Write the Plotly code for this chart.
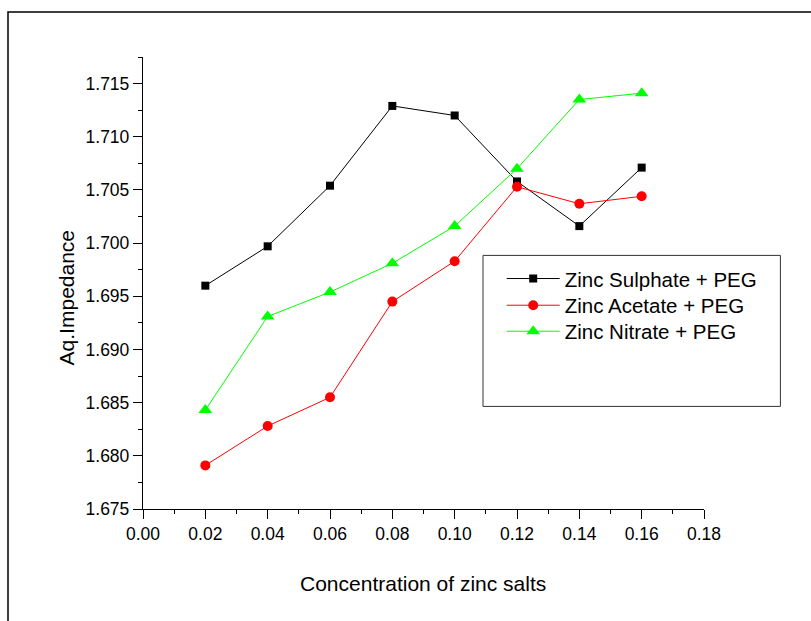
import plotly.graph_objects as go

x_conc = [0.02, 0.04, 0.06, 0.08, 0.10, 0.12, 0.14, 0.16]
zinc_sulphate = [1.6960, 1.6997, 1.7054, 1.7129, 1.7120, 1.7058, 1.7016, 1.7071]
zinc_acetate = [1.6791, 1.6828, 1.6855, 1.6945, 1.6983, 1.7053, 1.7037, 1.7044]
zinc_nitrate = [1.6843, 1.6931, 1.6954, 1.6981, 1.7016, 1.7070, 1.7135, 1.7141]

series_names = ["Zinc Sulphate + PEG", "Zinc Acetate + PEG", "Zinc Nitrate + PEG"]
x_title = "Concentration of zinc salts"
y_title = "Aq.Impedance"

FONT = "Liberation Sans, Arial, sans-serif"

W, H = 811, 621
L, R, T, B = 143.3, 106.7, 57.3, 111.7
pw, ph = W - L - R, H - T - B


def px_x(p):
    return (p - L) / pw


def px_y(p):
    return (H - B - p) / ph


fig = go.Figure()
styles = [
    dict(color="#000000", symbol="square", size=8),
    dict(color="#FF0000", symbol="circle", size=10),
    dict(color="#00FF00", symbol="triangle-up", size=12),
]
legend_ids = ["legend", "legend2", "legend3"]
legend_rows = [279, 305.7, 331.7]
for name, vals, st, lid in zip(series_names, [zinc_sulphate, zinc_acetate, zinc_nitrate], styles, legend_ids):
    fig.add_trace(go.Scatter(
        x=x_conc, y=vals, name=name, mode="lines+markers", legend=lid,
        line=dict(color=st["color"], width=1),
        marker=dict(color=st["color"], symbol=st["symbol"], size=st["size"], line=dict(width=0)),
    ))

axis_common = dict(
    showline=True, linecolor="black", linewidth=1.3, mirror=False,
    ticks="outside", ticklen=9, tickwidth=1.3, tickcolor="black",
    showgrid=False, zeroline=False,
    tickfont=dict(family=FONT, size=17.5, color="black"),
)

fig.update_xaxes(range=[0, 0.18], dtick=0.02, tick0=0, tickformat=".2f",
                 minor=dict(dtick=0.01, ticklen=4, ticks="outside", tickcolor="black", tickwidth=1.3),
                 **axis_common)
fig.update_yaxes(range=[1.675, 1.7175], dtick=0.005, tick0=1.675, tickformat=".3f",
                 minor=dict(dtick=0.0025, ticklen=4, ticks="outside", tickcolor="black", tickwidth=1.3),
                 **axis_common)

fig.add_annotation(text=x_title, xref="paper", yref="paper",
                   x=px_x(423.7), y=px_y(584), showarrow=False,
                   font=dict(family=FONT, size=21, color="black"),
                   xanchor="center", yanchor="middle")
fig.add_annotation(text=y_title, xref="paper", yref="paper",
                   x=px_x(67), y=px_y(298), showarrow=False, textangle=-90,
                   font=dict(family=FONT, size=21, color="black"),
                   xanchor="center", yanchor="middle")

# outer frame
fig.add_shape(type="rect", xref="paper", yref="paper",
              x0=px_x(8.3), x1=px_x(830), y0=px_y(640), y1=px_y(12.3),
              line=dict(color="black", width=1.5), layer="below")
# legend box
fig.add_shape(type="rect", xref="paper", yref="paper",
              x0=px_x(483.3), x1=px_x(780.7), y0=px_y(406.7), y1=px_y(255.7),
              line=dict(color="#333333", width=1))

legend_style = dict(xanchor="left", yanchor="middle",
                    bgcolor="rgba(0,0,0,0)", borderwidth=0, itemwidth=53,
                    font=dict(family=FONT, size=20.5, color="black"))
layout_legends = {}
for lid, row in zip(legend_ids, legend_rows):
    layout_legends[lid] = dict(x=px_x(502), y=px_y(row), **legend_style)

fig.update_layout(
    width=W, height=H,
    margin=dict(l=L, r=R, t=T, b=B, pad=0),
    paper_bgcolor="white", plot_bgcolor="white",
    showlegend=True,
    **layout_legends,
)

fig.write_html("out.html")
